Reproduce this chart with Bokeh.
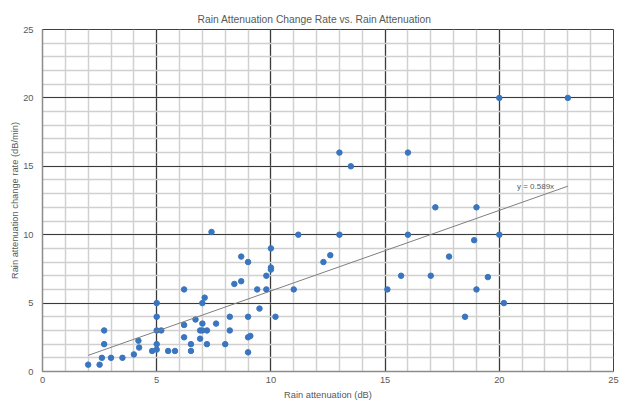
from bokeh.plotting import figure
from bokeh.models import SingleIntervalTicker, Label, ColumnDataSource
from bokeh.embed import file_html
from bokeh.resources import INLINE

# ---- data ----
x_vals = [2.0, 2.5, 2.6, 2.7, 2.7, 3.0, 3.5, 4.0, 4.2, 4.23, 4.8, 5.0, 5.0, 5.0, 5.0, 5.0, 5.2, 5.5, 5.8,
          6.2, 6.2, 6.2, 6.5, 6.5, 6.7, 6.9, 6.9, 7.0, 7.0, 7.0, 7.1, 7.2, 7.2, 7.6, 8.0, 8.2, 8.2, 8.4, 8.7,
          9.0, 9.0, 9.1, 9.0, 9.4, 9.5, 9.8, 10.2, 11.0, 15.1, 19.0, 20.2, 18.5,
          7.4, 11.2, 10.0, 8.7, 9.0, 10.0, 10.0, 9.8,
          13.0, 16.0, 13.5, 17.2, 13.0, 16.0, 12.6, 12.3, 15.7, 17.0,
          20.0, 23.0, 19.0, 18.9, 20.0, 17.8, 19.5]
y_vals = [0.5, 0.5, 1.0, 3.0, 2.0, 1.0, 1.0, 1.25, 2.25, 1.75, 1.5, 1.6, 2.0, 3.0, 4.0, 5.0, 3.0, 1.5, 1.5,
          6.0, 3.4, 2.5, 2.0, 1.5, 3.8, 3.0, 2.4, 3.0, 3.5, 5.0, 5.4, 3.0, 2.0, 3.5, 2.0, 3.0, 4.0, 6.4, 6.6,
          4.0, 2.5, 2.6, 1.4, 6.0, 4.6, 6.0, 4.0, 6.0, 6.0, 6.0, 5.0, 4.0,
          10.2, 10.0, 9.0, 8.4, 8.0, 7.6, 7.45, 7.0,
          16.0, 16.0, 15.0, 12.0, 10.0, 10.0, 8.5, 8.0, 7.0, 7.0,
          20.0, 20.0, 12.0, 9.6, 10.0, 8.4, 6.9]
trend_slope = 0.589
trend_x = [2.0, 23.0]
trend_y = [trend_slope * v for v in trend_x]
trend_label = "y = 0.589x"

TEXT = "#595959"
FONT = "Liberation Sans"

p = figure(width=633, height=403, x_range=(0, 25), y_range=(0, 25),
           output_backend="svg", toolbar_location=None,
           title="Rain Attenuation Change Rate vs. Rain Attenuation",
           min_border_left=42, min_border_right=20, min_border_top=29, min_border_bottom=32)
p.background_fill_color = "white"
p.border_fill_color = "white"
p.outline_line_color = "#404040"
p.outline_line_width = 1

p.title.align = "left"
p.title.offset = 155
p.title.text_font = FONT
p.title.text_font_size = "10.3px"
p.title.text_font_style = "normal"
p.title.text_color = TEXT
p.title.standoff = 9

for ax in (p.xaxis[0], p.yaxis[0]):
    ax.ticker = SingleIntervalTicker(interval=5, num_minor_ticks=5)
    ax.major_tick_line_color = None
    ax.minor_tick_line_color = None
    ax.major_tick_out = 0
    ax.major_tick_in = 0
    ax.minor_tick_out = 0
    ax.minor_tick_in = 0
    ax.axis_line_color = "#8c8c8c"
    ax.axis_line_width = 1.5
    ax.major_label_text_font = FONT
    ax.major_label_text_font_size = "9.3px"
    ax.major_label_text_color = TEXT
    ax.axis_label_text_font = FONT
    ax.axis_label_text_font_size = "9.3px"
    ax.axis_label_text_font_style = "normal"
    ax.axis_label_text_color = TEXT

p.xaxis.axis_label = "Rain attenuation (dB)"
p.yaxis.axis_label = "Rain attenuation change rate (dB/min)"
p.xaxis.major_label_standoff = 5
p.xaxis.axis_label_standoff = 4
p.yaxis.major_label_standoff = 9
p.yaxis.axis_label_standoff = 0

for g in (p.xgrid[0], p.ygrid[0]):
    g.ticker = SingleIntervalTicker(interval=5, num_minor_ticks=5)
    g.grid_line_color = "#3a3a3a"
    g.grid_line_width = 1.2
    g.minor_grid_line_color = "#d0d0d0"
    g.minor_grid_line_width = 1.5

src = ColumnDataSource(dict(x=x_vals, y=y_vals))
p.scatter("x", "y", source=src, size=5.5, fill_color="#3a76c0", line_color="#3a76c0")

p.line(trend_x, trend_y, line_color="#7f7f7f", line_width=1)
p.add_layout(Label(x=trend_x[1] - 0.6, y=trend_y[1], text=trend_label,
                   text_align="right", text_baseline="middle",
                   text_font=FONT, text_font_size="8px", text_color=TEXT))

open("out.html", "w").write(file_html(p, INLINE))
